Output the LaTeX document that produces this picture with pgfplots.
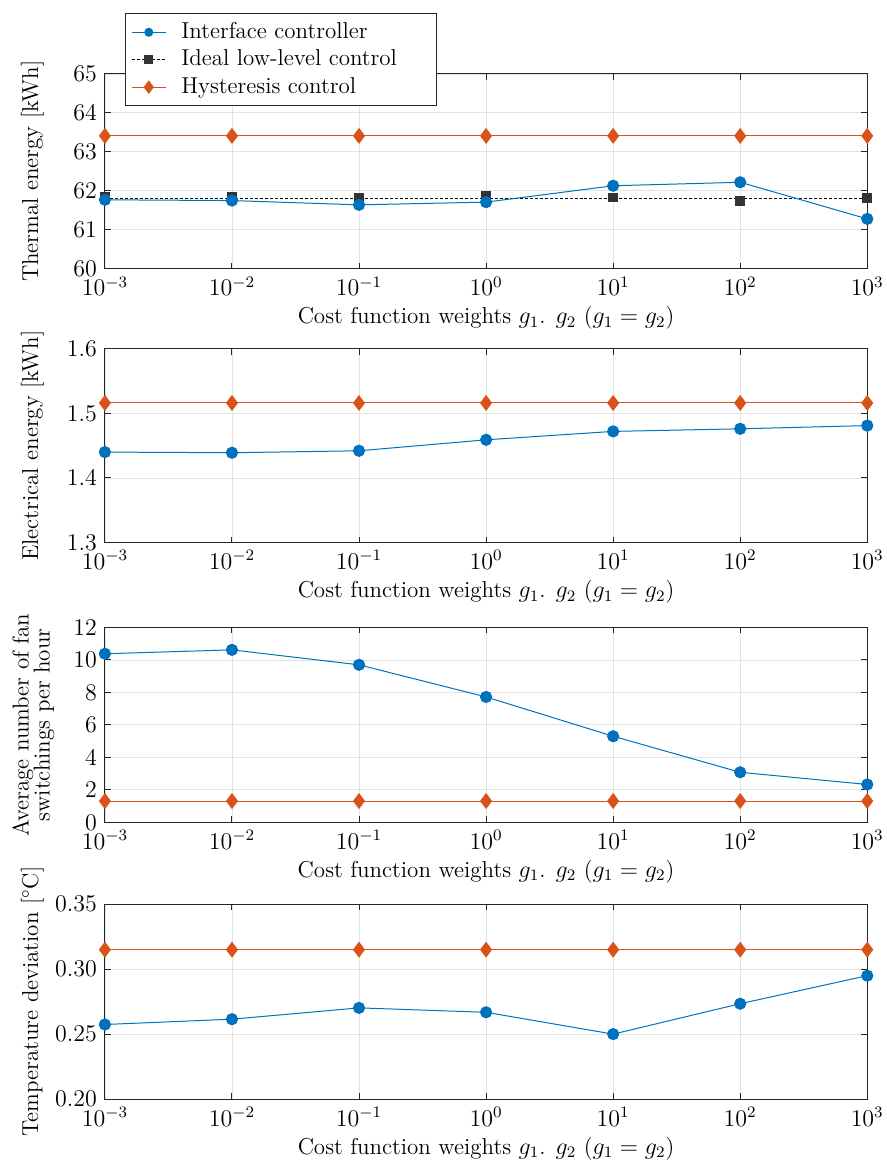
\documentclass[border=0pt]{standalone}
\usepackage{pgfplots}
\pgfplotsset{compat=1.18}
\definecolor{mblue}{rgb}{0,0.447,0.741}
\definecolor{morange}{rgb}{0.85,0.325,0.098}
\definecolor{ideal}{rgb}{0.2,0.2,0.2}
\definecolor{axiscol}{rgb}{0.15,0.15,0.15}
\tikzset{
  blueline/.style={mblue, line width=0.5pt, mark=*, mark size=2.8pt, mark options={fill=mblue, draw=mblue, solid}},
  orangeline/.style={morange, line width=0.5pt, mark=diamond*, mark size=3.6pt, mark options={fill=morange, draw=morange, solid}},
}
\pgfplotsset{every axis/.append style={
    scale only axis, width=381.5pt, height=97.5pt,
    xmin=1e-3, xmax=1e3,
    xtick={1e-3,1e-2,1e-1,1,1e1,1e2,1e3},
    xminorticks=false, yminorticks=false,
    grid=major, major grid style={black!11, line width=0.4pt},
    tick align=inside, major tick length=3pt,
    axis line style={axiscol, line width=0.5pt}, tick style={axiscol, line width=0.5pt},
    xlabel={Cost function weights $g_1$. $g_2$ ($g_1 = g_2$)},
    xlabel style={yshift=2.5pt},
    ylabel style={at={(axis description cs:-0.095,0.5)}, anchor=center, align=center},
}}
\begin{document}
\fontsize{11.5}{13.5}\selectfont
\begin{tikzpicture}
\useasboundingbox (-52.5pt,-446pt) rectangle (391pt,134.5pt);
% ---------- Plot 1
\begin{semilogxaxis}[at={(0pt,0pt)}, anchor=south west,
  ymin=60, ymax=65, ytick={60,61,62,63,64,65},
  ylabel={Thermal energy [kWh]},
  legend cell align=left,
  legend style={at={(rel axis cs:0.026,1.313)}, anchor=north west, draw=axiscol, fill=white, line width=0.5pt, inner xsep=3pt, inner ysep=2.5pt, row sep=0pt, column sep=5.5pt},
]
\addplot[orangeline, forget plot] coordinates {(1e-3,63.41)(1e-2,63.41)(1e-1,63.41)(1,63.41)(1e1,63.41)(1e2,63.41)(1e3,63.41)};
\addplot[black, line width=0.5pt, dash pattern=on 1.5pt off 1pt, forget plot] coordinates {(1e-3,61.81)(1e3,61.81)};
\addplot[only marks, mark=square*, mark size=2.2pt, mark options={fill=ideal, draw=ideal}, forget plot] coordinates {(1e-3,61.85)(1e-2,61.85)(1e-1,61.81)(1,61.87)(1e1,61.83)(1e2,61.74)(1e3,61.81)};
\addplot[blueline, forget plot] coordinates {(1e-3,61.77)(1e-2,61.75)(1e-1,61.64)(1,61.71)(1e1,62.13)(1e2,62.22)(1e3,61.28)};
\addlegendimage{blueline, mark size=2pt}
\addlegendentry{Interface controller}
\addlegendimage{black, line width=0.5pt, dash pattern=on 1.5pt off 1pt, mark=square*, mark size=2pt, mark options={fill=ideal, draw=ideal, solid}}
\addlegendentry{Ideal low-level control\rule{15pt}{0pt}}
\addlegendimage{orangeline, mark size=3pt}
\addlegendentry{Hysteresis control}
\end{semilogxaxis}
% ---------- Plot 2
\begin{semilogxaxis}[at={(0pt,-137pt)}, anchor=south west, height=97pt,
  ymin=1.3, ymax=1.6, ytick={1.3,1.4,1.5,1.6},
  yticklabel style={/pgf/number format/.cd, fixed, fixed zerofill, precision=1},
  ylabel={Electrical energy [kWh]},
]
\addplot[orangeline] coordinates {(1e-3,1.516)(1e-2,1.516)(1e-1,1.516)(1,1.516)(1e1,1.516)(1e2,1.516)(1e3,1.516)};
\addplot[blueline] coordinates {(1e-3,1.440)(1e-2,1.439)(1e-1,1.442)(1,1.459)(1e1,1.472)(1e2,1.476)(1e3,1.481)};
\end{semilogxaxis}
% ---------- Plot 3
\begin{semilogxaxis}[at={(0pt,-277pt)}, anchor=south west,
  ymin=0, ymax=12, ytick={0,2,4,6,8,10,12},
  ylabel={Average number of fan\\switchings per hour},
  ylabel style={font=\fontsize{11.5}{10.5}\selectfont, at={(axis description cs:-0.094,0.5)}},
]
\addplot[orangeline] coordinates {(1e-3,1.31)(1e-2,1.31)(1e-1,1.31)(1,1.31)(1e1,1.31)(1e2,1.31)(1e3,1.31)};
\addplot[blueline] coordinates {(1e-3,10.38)(1e-2,10.62)(1e-1,9.70)(1,7.72)(1e1,5.30)(1e2,3.08)(1e3,2.33)};
\end{semilogxaxis}
% ---------- Plot 4
\begin{semilogxaxis}[at={(0pt,-415.5pt)}, anchor=south west,
  ymin=0.2, ymax=0.35, ytick={0.2,0.25,0.3,0.35},
  yticklabel style={/pgf/number format/.cd, fixed, fixed zerofill, precision=2},
  ylabel={Temperature deviation [$^\circ$C]},
]
\addplot[orangeline] coordinates {(1e-3,0.315)(1e-2,0.315)(1e-1,0.315)(1,0.315)(1e1,0.315)(1e2,0.315)(1e3,0.315)};
\addplot[blueline] coordinates {(1e-3,0.2574)(1e-2,0.2615)(1e-1,0.2702)(1,0.2668)(1e1,0.2500)(1e2,0.2734)(1e3,0.2950)};
\end{semilogxaxis}
\end{tikzpicture}
\end{document}
